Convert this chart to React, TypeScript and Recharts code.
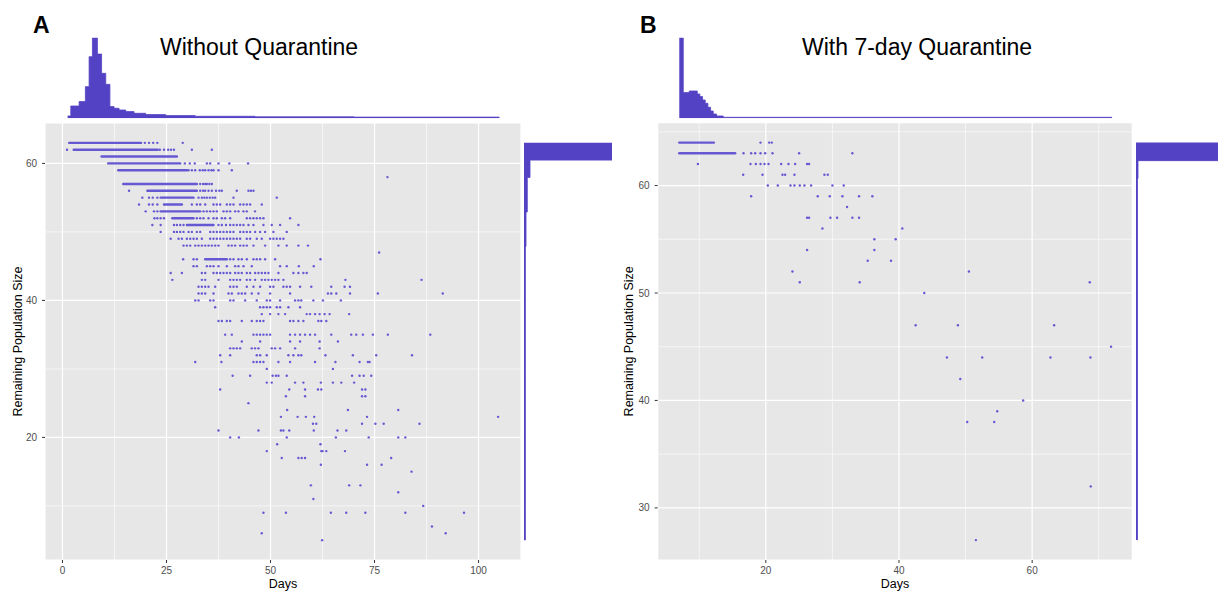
import React from "react";
import {
  ScatterChart,
  Scatter,
  XAxis,
  YAxis,
  CartesianGrid,
  ReferenceLine,
  AreaChart,
  Area,
} from "recharts";

const HIST = "#5442C4";
const DOT = "#6658D3";
const PANEL_BG = "#E7E7E7";

// ---------- panel A: without quarantine ----------
const aXTicks = [0, 25, 50, 75, 100];
const aXMinor = [12.5, 37.5, 62.5, 87.5];
const aYTicks = [20, 40, 60];
const aYMinor = [10, 30, 50];

// overplotted stretches that read as solid bars: [population, first day, last day]
const aRuns: [number, number, number][] = [
  [63, 1.6, 18.9],
  [62, 2.7, 22.9],
  [61, 9.4, 27.5],
  [60, 11.0, 28.3],
  [59, 13.4, 29.9],
  [57, 14.6, 32.3],
  [56, 20.4, 32.3],
  [55, 23.6, 31.5],
  [54, 24.4, 28.7],
  [53, 23.6, 33.1],
  [52, 26.4, 31.5],
  [51, 29.9, 36.3],
  [46, 34.3, 39.5],
];

// single points: [population, days]
const aRows: [number, number[]][] = [
  [63, [19.8, 20.8, 21.8, 22.8, 28.9]],
  [62, [1.1, 23.4, 24.4, 25.4, 26.1, 26.8, 31.1, 35.9]],
  [60, [29.4, 30.6, 31.8, 34.7, 35.5, 37.5, 40.1, 44.6]],
  [59, [30.3, 31.1, 31.9, 33.0, 33.7, 34.3, 35.1, 35.8, 36.3, 37.5, 40.7]],
  [58, [78.1]],
  [57, [33.1, 33.8, 34.3, 34.7, 35.3, 35.9]],
  [56, [16.0, 33.1, 33.8, 34.3, 35.1, 35.9, 36.9, 37.7, 38.3, 41.9, 44.7, 45.3, 45.9]],
  [55, [19.2, 20.8, 21.7, 22.8, 32.7, 33.5, 34.1, 34.7, 35.4, 36.1, 36.7, 41.1, 51.5]],
  [54, [18.4, 20.8, 21.7, 22.8, 31.1, 32.3, 33.1, 34.3, 36.3, 37.1, 37.9, 39.5, 40.3, 41.1, 42.7, 43.5, 44.3, 45.1, 47.9]],
  [53, [20.0, 22.0, 22.8, 33.9, 34.7, 35.5, 36.3, 37.1, 38.7, 39.5, 40.3, 41.5, 42.3, 43.5, 44.3, 46.3]],
  [52, [22.1, 22.8, 23.6, 24.4, 32.3, 33.1, 33.9, 35.1, 36.3, 37.1, 38.3, 39.1, 40.3, 44.3, 45.1, 45.9, 46.7, 47.5, 48.3, 54.7]],
  [51, [21.6, 23.6, 26.8, 27.5, 28.3, 29.1, 37.5, 38.3, 39.3, 40.3, 41.1, 41.9, 42.7, 43.5, 44.7, 45.9, 48.3, 50.3, 52.3, 56.7]],
  [50, [23.6, 26.8, 27.5, 28.3, 29.1, 30.3, 31.1, 32.3, 33.1, 35.5, 36.3, 37.1, 37.9, 38.7, 39.5, 40.3, 41.1, 42.7, 43.5, 44.3, 45.1, 46.3, 47.5, 48.7, 50.7, 53.9]],
  [49, [26.0, 27.9, 28.7, 29.9, 30.7, 31.5, 32.3, 33.5, 35.5, 36.3, 37.1, 37.9, 38.7, 39.5, 40.3, 41.1, 41.9, 42.7, 44.3, 45.1, 46.7, 47.9, 49.9, 50.7, 51.5, 52.3, 53.1]],
  [48, [29.1, 29.9, 30.7, 31.9, 32.7, 33.5, 34.3, 35.1, 35.9, 36.7, 37.5, 39.9, 40.7, 41.5, 42.7, 43.5, 44.3, 45.9, 48.7, 51.9, 53.9, 56.7, 59.0]],
  [47, [76.1]],
  [46, [29.0, 31.5, 32.3, 40.3, 41.1, 42.3, 43.1, 44.3, 45.9, 46.7, 47.5, 48.7, 51.1, 62.0]],
  [45, [31.5, 32.3, 34.7, 35.5, 36.3, 37.5, 39.5, 41.5, 42.3, 43.5, 45.5, 52.3, 53.9, 56.8, 60.4]],
  [44, [26.0, 28.7, 33.5, 34.3, 36.3, 37.1, 37.9, 38.7, 39.5, 40.3, 41.5, 42.3, 43.1, 44.3, 45.1, 46.3, 47.1, 47.9, 48.7, 49.5, 51.9, 55.5, 56.7, 57.9, 58.7]],
  [43, [26.4, 33.5, 34.3, 37.5, 40.3, 41.1, 41.9, 42.7, 44.3, 45.1, 46.3, 47.9, 48.7, 49.5, 50.3, 51.1, 51.9, 53.1, 68.0, 86.3]],
  [42, [32.7, 33.5, 34.3, 35.1, 36.7, 40.3, 41.1, 41.9, 44.3, 45.9, 47.5, 49.9, 50.7, 53.1, 53.9, 54.7, 57.1, 59.8, 64.6, 67.8, 69.1]],
  [41, [32.7, 33.5, 34.3, 36.3, 39.9, 40.7, 42.3, 43.1, 43.9, 45.5, 47.1, 49.9, 54.7, 63.8, 64.6, 65.8, 69.1, 75.8, 91.4]],
  [40, [31.9, 32.7, 35.5, 36.3, 40.3, 41.1, 43.9, 46.7, 49.1, 49.9, 52.3, 55.9, 56.7, 57.4, 60.3, 62.6, 66.9]],
  [39, [36.7, 47.5, 48.3, 49.1, 49.9, 51.5, 52.3, 54.3, 57.1]],
  [38, [47.9, 49.9, 51.9, 53.5, 58.7, 59.5, 60.7, 61.8, 63.0, 64.2, 68.9]],
  [37, [37.5, 38.3, 39.5, 40.3, 43.1, 45.5, 46.7, 47.5, 48.3, 54.7, 55.5, 56.7, 57.9, 61.5, 62.2, 63.4]],
  [35, [39.1, 40.7, 45.9, 46.7, 47.5, 48.3, 49.1, 49.9, 54.7, 55.9, 57.1, 58.3, 59.5, 60.7, 64.6, 69.4, 70.6, 72.2, 74.6, 78.2, 88.4]],
  [34, [43.1, 47.5, 54.7, 57.1, 61.8, 66.2]],
  [33, [40.3, 41.1, 41.9, 42.7, 45.5, 46.3, 47.1, 50.3, 51.1, 52.3, 55.9, 61.8]],
  [32, [37.9, 40.3, 46.7, 47.5, 49.1, 54.3, 55.5, 56.7, 57.4, 63.2, 69.8, 75.4, 84.0]],
  [31, [31.9, 38.2, 45.9, 46.7, 47.5, 48.3, 51.9, 54.7, 60.7, 65.6, 71.4, 73.4, 73.8]],
  [30, [49.1, 65.0]],
  [29, [40.9, 45.1, 50.5, 51.3, 51.9, 53.9, 69.6, 71.4, 72.4, 74.2]],
  [28, [49.1, 50.3, 55.9, 57.9, 62.1, 65.0, 67.0, 70.1]],
  [27, [37.9, 54.5, 58.3, 61.4, 62.2, 72.0, 72.8]],
  [26, [53.7, 58.3, 72.0, 72.8]],
  [25, [44.7]],
  [24, [54.0, 68.6, 80.7]],
  [23, [52.5, 56.5, 58.5, 60.5, 73.2, 104.7]],
  [22, [60.2, 61.0, 72.0, 75.2, 77.2, 85.8]],
  [21, [37.5, 47.1, 52.5, 53.1, 54.5, 60.4, 66.1, 68.2]],
  [20, [40.3, 42.4, 53.9, 65.7, 73.6, 80.7, 82.4]],
  [19, [51.6, 62.0]],
  [18, [49.1, 62.2, 62.5, 63.4, 67.9]],
  [17, [52.7, 56.7, 57.5, 58.3, 79.0]],
  [16, [62.1, 73.2, 76.7]],
  [15, [83.9]],
  [13, [59.7, 68.9, 71.6]],
  [12, [80.7]],
  [11, [60.3]],
  [10, [86.7]],
  [9, [48.3, 53.7, 64.5, 68.2, 72.8, 82.4, 96.5]],
  [7, [88.8]],
  [6, [47.9, 92.1]],
  [5, [62.4]],
];

// marginal histograms (bin edges + heights)
const aTopEdges = [1.24, 2.0, 4.0, 5.5, 6.4, 7.2, 8.4, 9.4, 10.4, 11.4, 12.4, 13.6, 15.2, 17.2, 20, 24.8, 31.9, 46.3, 70, 105];
const aTopCounts = [2.3, 12.3, 16.7, 31.7, 61.7, 80.7, 64.3, 45, 34, 11.7, 10, 8.3, 6.7, 5, 3.7, 2.7, 2, 1.5, 1.2];
const aSideEdges = [5, 47.87, 50.39, 52.91, 55.43, 57.96, 60.48, 63];
const aSideCounts = [1.4, 2, 2, 3.3, 3.3, 6, 88];

// ---------- panel B: with 7-day quarantine ----------
const bXTicks = [20, 40, 60];
const bXMinor = [10, 30, 50, 70];
const bYTicks = [30, 40, 50, 60];
const bYMinor = [35, 45, 55, 65];

const bRuns: [number, number, number][] = [
  [64, 7.0, 12.2],
  [63, 7.0, 15.4],
];

const bRows: [number, number[]][] = [
  [64, [19.2, 20.5, 20.9]],
  [63, [16.65, 17.8, 18.4, 19.2, 19.9, 21.0, 25.0, 33.0]],
  [62, [9.8, 17.7, 18.5, 19.2, 19.8, 20.4, 22.3, 23.4, 24.4, 26.2, 26.5]],
  [61, [16.6, 19.5, 22.5, 22.9, 24.3, 28.8, 29.3]],
  [60, [20.3, 21.8, 23.7, 24.3, 25.1, 25.8, 26.8, 30.0, 31.7]],
  [59, [17.8, 27.8, 29.6, 31.5, 34.0, 36.0]],
  [58, [32.2]],
  [57, [26.2, 26.5, 29.7, 30.7, 33.0, 34.0]],
  [56, [28.5, 40.5]],
  [55, [36.3, 39.5]],
  [54, [26.2, 36.3]],
  [53, [35.3, 38.8]],
  [52, [24.0, 50.5]],
  [51, [25.1, 34.1, 68.65]],
  [50, [43.8]],
  [47, [42.5, 48.85, 63.3]],
  [45, [71.85]],
  [44, [47.2, 52.5, 62.75, 68.75]],
  [42, [49.2]],
  [40, [58.65]],
  [39, [54.75]],
  [38, [50.25, 54.3]],
  [32, [68.8]],
  [27, [51.55]],
];

const bTopEdges = [7, 7.6, 8.5, 9.7, 10.1, 10.5, 10.9, 11.3, 11.7, 12.1, 12.6, 13.6, 72];
const bTopCounts = [80.6, 25.7, 27.3, 24.3, 21.7, 18.3, 15, 11, 7.3, 4.3, 2.3, 1];
const bSideEdges = [27, 60.64, 62.32, 64];
const bSideCounts = [1.5, 2, 88];

const toPoints = (rows: [number, number[]][]) =>
  rows.flatMap(([y, days]) => days.map((x) => ({ x, y })));

const toSteps = (edges: number[], counts: number[], key: string) =>
  edges.map((e, i) => ({ [key]: e, c: counts[Math.min(i, counts.length - 1)] }));

const dotShape = (p: any) => <circle cx={p.cx} cy={p.cy} r={1.2} fill={DOT} />;

const tickStyle = { fill: "#4D4D4D", fontSize: 10 };

function Panel(p: any) {
  const points = toPoints(p.rows);
  const topData = toSteps(p.topEdges, p.topCounts, "x");
  const sideData = toSteps(p.sideEdges, p.sideCounts, "v");
  const topMax = Math.max(...p.topCounts);
  const sideMax = Math.max(...p.sideCounts);

  return (
    <>
      <div style={{ position: "absolute", left: p.letterLeft, top: 14, fontSize: 23, fontWeight: 700, lineHeight: 1 }}>
        {p.letter}
      </div>
      <div style={{ position: "absolute", left: p.titleLeft, top: 36, fontSize: 23, lineHeight: 1, whiteSpace: "nowrap" }}>
        {p.title}
      </div>

      {/* top marginal: days */}
      <div style={{ position: "absolute", left: p.left, top: 30 }}>
        <AreaChart width={530} height={92} data={topData} margin={{ top: 7.7, right: p.marginRight, bottom: 3.7, left: p.yAxisWidth }}>
          <XAxis type="number" dataKey="x" domain={p.xDomain} allowDataOverflow hide />
          <YAxis type="number" domain={[0, topMax]} allowDataOverflow hide />
          <Area type="stepAfter" dataKey="c" stroke={HIST} strokeWidth={0.8} fill={HIST} fillOpacity={1} dot={false} activeDot={false} isAnimationActive={false} />
        </AreaChart>
      </div>

      {/* right marginal: population size */}
      <div style={{ position: "absolute", left: p.sideLeft, top: 110 }}>
        <AreaChart layout="vertical" width={110} height={460} data={sideData} margin={{ top: p.plotTop - 110, right: 13, bottom: 10, left: 9 }}>
          <XAxis type="number" domain={[0, sideMax]} allowDataOverflow hide />
          <YAxis type="number" dataKey="v" domain={p.yDomain} allowDataOverflow reversed hide />
          <Area type="stepBefore" dataKey="c" stroke={HIST} strokeWidth={0.8} fill={HIST} fillOpacity={1} dot={false} activeDot={false} isAnimationActive={false} />
        </AreaChart>
      </div>

      {/* main scatter */}
      <div style={{ position: "absolute", left: p.left, top: 110 }}>
        <ScatterChart width={530} height={481} margin={{ top: p.plotTop - 110, right: p.marginRight, bottom: 0, left: 0 }}>
          <CartesianGrid stroke="#FFFFFF" strokeWidth={1.2} fill={PANEL_BG} />
          {p.xMinor.map((v: number) => (
            <ReferenceLine key={"mx" + v} x={v} stroke="#FFFFFF" strokeWidth={0.6} />
          ))}
          {p.yMinor.map((v: number) => (
            <ReferenceLine key={"my" + v} y={v} stroke="#FFFFFF" strokeWidth={0.6} />
          ))}
          <XAxis
            type="number"
            dataKey="x"
            domain={p.xDomain}
            ticks={p.xTicks}
            allowDataOverflow
            height={31}
            tickSize={3}
            tickMargin={4}
            axisLine={false}
            stroke="#333333"
            tick={tickStyle}
            label={{ value: "Days", position: "insideBottom", offset: 3, fill: "#000", fontSize: 12.5 }}
          />
          <YAxis
            type="number"
            dataKey="y"
            domain={p.yDomain}
            ticks={p.yTicks}
            allowDataOverflow
            width={p.yAxisWidth}
            tickSize={3}
            tickMargin={5}
            axisLine={false}
            stroke="#333333"
            tick={tickStyle}
            label={{
              value: "Remaining Population Size",
              angle: -90,
              position: "insideLeft",
              offset: p.yTitleOffset,
              fill: "#000",
              fontSize: 12.5,
              style: { textAnchor: "middle" },
            }}
          />
          {p.runs.map(([y, a, b]: [number, number, number], i: number) => (
            <ReferenceLine
              key={"run" + i}
              segment={[{ x: a, y }, { x: b, y }]}
              stroke={DOT}
              strokeWidth={2.4}
              strokeLinecap="round"
            />
          ))}
          <Scatter data={points} fill={DOT} shape={dotShape} isAnimationActive={false} />
        </ScatterChart>
      </div>
    </>
  );
}

export default function App() {
  return (
    <div
      style={{
        position: "absolute",
        left: 0,
        top: 0,
        width: 1218,
        height: 591,
        overflow: "hidden",
        background: "#fff",
        fontFamily: '"Liberation Sans", Arial, Helvetica, sans-serif',
      }}
    >
      <Panel
        letter="A"
        letterLeft={33}
        title="Without Quarantine"
        titleLeft={160}
        left={0}
        sideLeft={515}
        plotTop={123}
        yAxisWidth={45}
        marginRight={9}
        yTitleOffset={17.5}
        xDomain={[-4.2, 110.2]}
        yDomain={[2.1, 65.9]}
        xTicks={aXTicks}
        xMinor={aXMinor}
        yTicks={aYTicks}
        yMinor={aYMinor}
        runs={aRuns}
        rows={aRows}
        topEdges={aTopEdges}
        topCounts={aTopCounts}
        sideEdges={aSideEdges}
        sideCounts={aSideCounts}
      />
      <Panel
        letter="B"
        letterLeft={640}
        title="With 7-day Quarantine"
        titleLeft={802}
        left={610}
        sideLeft={1127}
        plotTop={122.7}
        yAxisWidth={47.7}
        marginRight={7.7}
        yTitleOffset={18.5}
        xDomain={[3.76, 75.04]}
        yDomain={[25.15, 65.85]}
        xTicks={bXTicks}
        xMinor={bXMinor}
        yTicks={bYTicks}
        yMinor={bYMinor}
        runs={bRuns}
        rows={bRows}
        topEdges={bTopEdges}
        topCounts={bTopCounts}
        sideEdges={bSideEdges}
        sideCounts={bSideCounts}
      />
    </div>
  );
}
